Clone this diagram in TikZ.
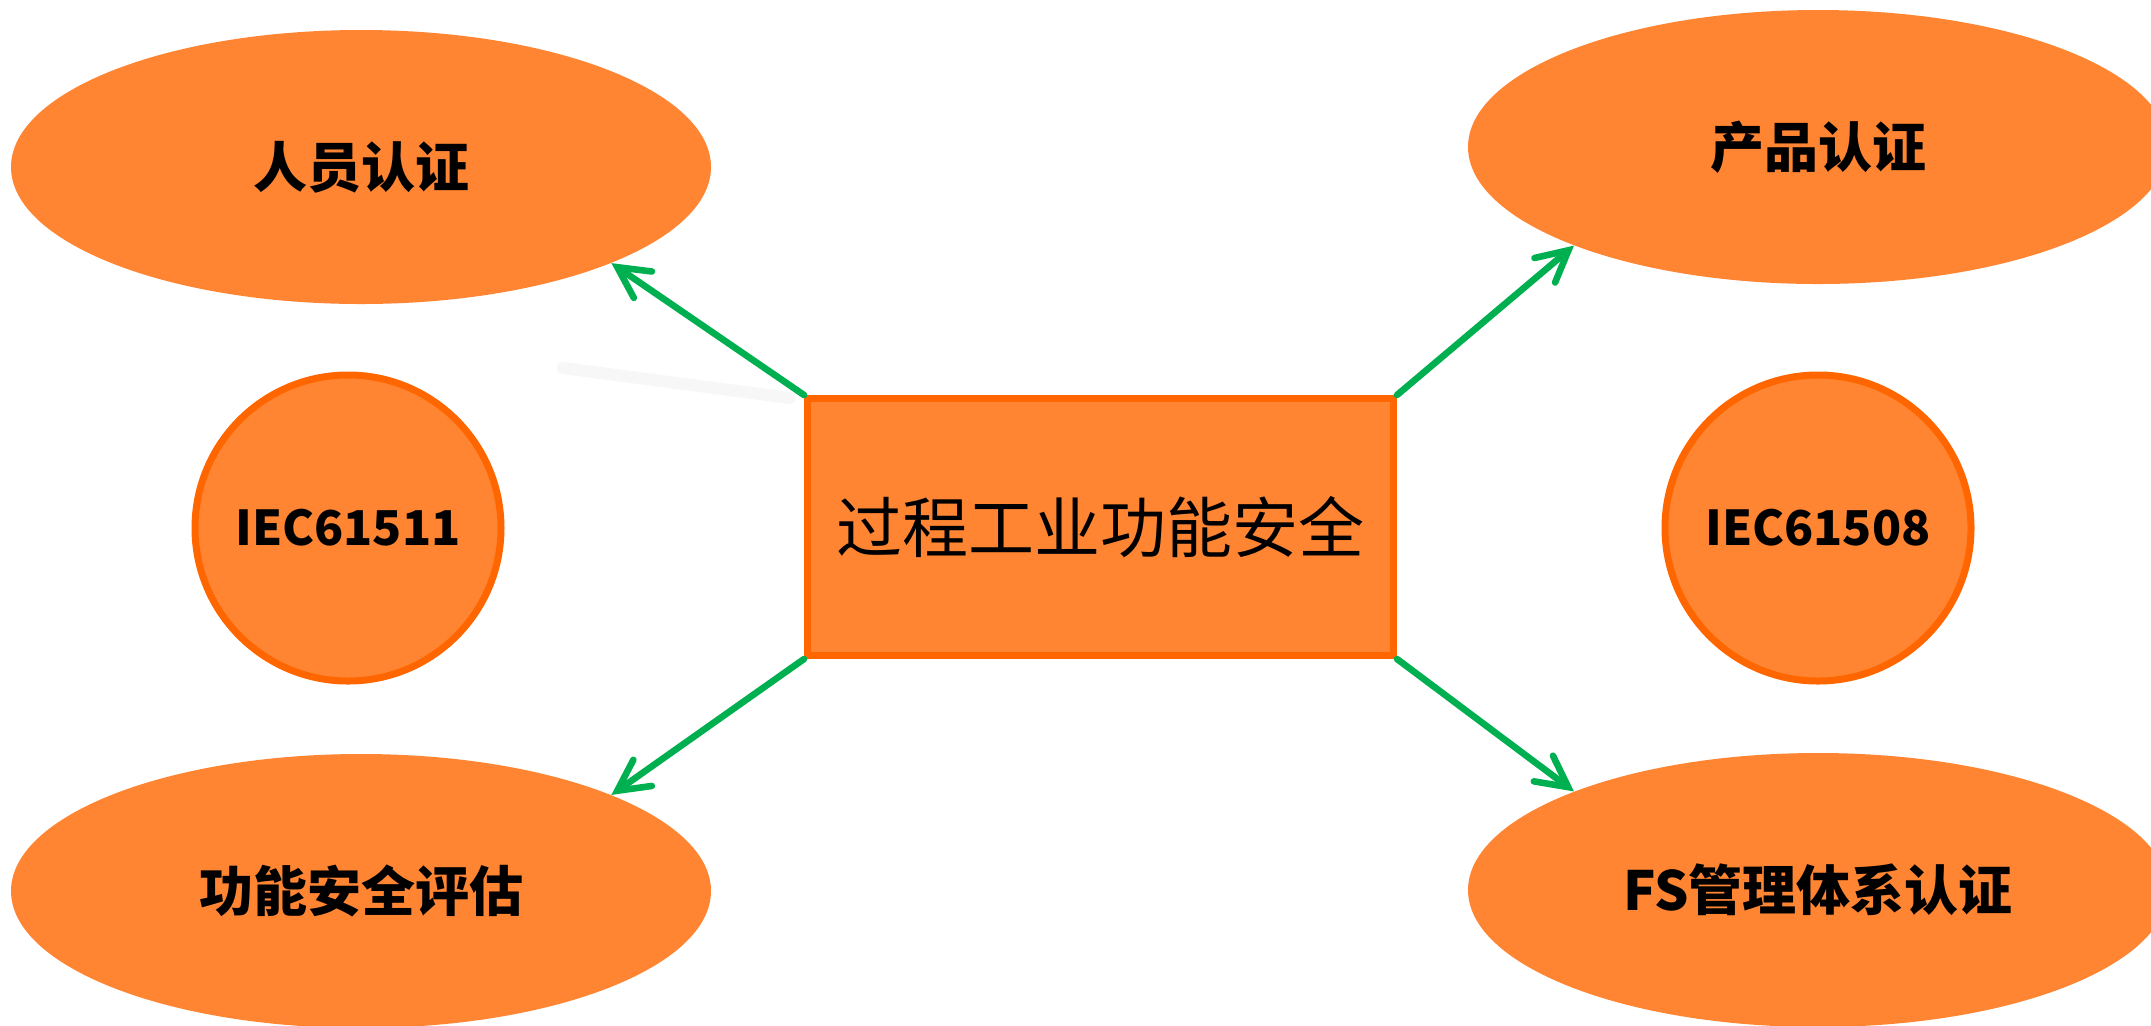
\documentclass[tikz,border=0pt]{standalone}
\usepackage{fontspec}
\newfontfamily\cjk{Noto Sans CJK SC}
\usetikzlibrary{shapes.geometric,arrows.meta}
\definecolor{fillor}{HTML}{FF8533}
\definecolor{edgeor}{HTML}{FF6600}
\definecolor{arrowgreen}{HTML}{00B050}
\begin{document}
\begin{tikzpicture}[x=0.5pt,y=-0.5pt,
  oval/.style={ellipse, fill=fillor, minimum width=350pt, minimum height=137pt, inner sep=0pt,
    font=\cjk\bfseries\fontsize{27pt}{30pt}\selectfont},
  disc/.style={circle, fill=fillor, draw=edgeor, line width=3.5pt, minimum size=153pt, inner sep=0pt,
    font=\cjk\bfseries\fontsize{24pt}{28pt}\selectfont},
  core/.style={rectangle, fill=fillor, draw=edgeor, line width=3.5pt, minimum width=293pt, minimum height=128.5pt,
    inner sep=0pt, font=\cjk\fontsize{33pt}{38pt}\selectfont},
  conn/.style={draw=arrowgreen, line width=3.3pt, line cap=round,
    -{Straight Barb[length=15.5pt,width=16pt,line cap=round]}}]
\useasboundingbox (0,0) rectangle (2151,1025);
\clip (0,0) rectangle (2151,1025);
\fill[white] (0,0) rectangle (2151,1025);

\node[oval] (e1) at (361,167) {人员认证};
\node[oval] (e2) at (1818,147) {产品认证};
\node[oval] (e3) at (361,891) {功能安全评估};
\node[oval] (e4) at (1818,890) {FS管理体系认证};

\node[disc] (c1) at (348,528) {IEC61511};
\node[disc] (c2) at (1818,528) {IEC61508};

\node[core] (box) at (1100.5,527) {过程工业功能安全};
\coordinate (sh) at (563,368);
\coordinate (she) at (790,398);
\draw[gray!6, line width=6pt, line cap=round] (sh) -- (she);

\draw[conn] (box.north west) -- (e1.-21.3);
\draw[conn] (box.north east) -- (e2.-158.6);
\draw[conn] (box.south west) -- (e3.21.5);
\draw[conn] (box.south east) -- (e4.158.2);
\end{tikzpicture}
\end{document}
